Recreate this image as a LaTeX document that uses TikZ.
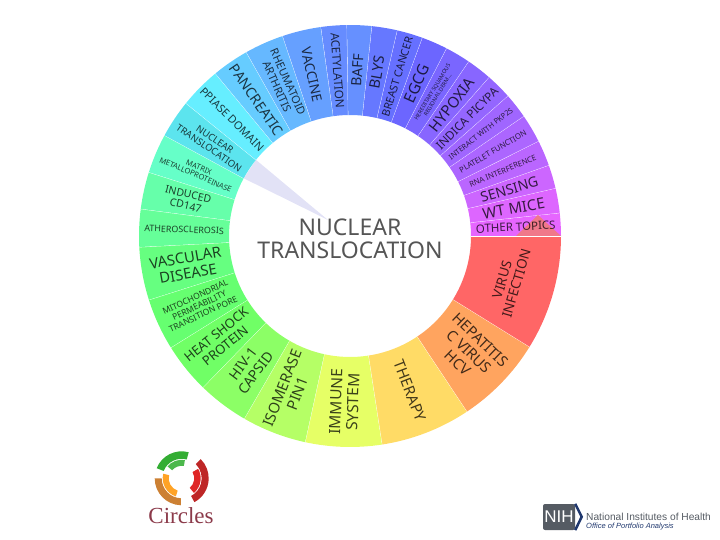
\documentclass[tikz,border=0pt]{standalone}
\usepackage{fontspec}
\setmainfont{Noto Sans}
\newfontfamily\serifname{Liberation Serif}
\newfontfamily\nihname{Liberation Sans}
\definecolor{titlegrey}{HTML}{555555}
\definecolor{nihgrey}{HTML}{555B63}
\definecolor{nihnavy}{HTML}{20386E}
\definecolor{spot}{HTML}{E2E2F6}
\definecolor{circlered}{HTML}{8B3A4A}
\definecolor{salmon}{HTML}{F0788A}
\tikzset{
  wedge/.style={draw=white, line width=0.7pt},
  seclabel/.style={align=center, inner sep=0pt, text=black, text opacity=0.74},
}
% one sector of the ring: from, to, colour, name, font size, rotation, radius, text
\newcommand{\sector}[8]{
  \pgfmathsetmacro{\secmid}{(#1+#2)/2}
  \pgfmathsetmacro{\seclead}{#5*1.1}
  \definecolor{seccol}{HTML}{#3}
  \fill[seccol] (#1:121) arc (#1:#2:121) -- (#2:211) arc (#2:#1:211) -- cycle;
  \draw[wedge] (#1:121) -- (#1:211);
  \node[seclabel, rotate=#6, font=\fontsize{#5}{\seclead}\selectfont] (#4) at (\secmid:#7) {#8};
}
% one band of the logo: from, to, inner radius, outer radius, colour
\newcommand{\logoband}[5]{
  \fill[#5] ([shift={(logo)}]#1:#4) arc (#1:#2:#4) -- ([shift={(logo)}]#2:#3) arc (#2:#1:#3) -- cycle;
}
\begin{document}
\begin{tikzpicture}[x=1pt, y=1pt]
\useasboundingbox (-350,-304) rectangle (370,236);
% pointer from the chosen sector to the title
\fill[spot] (141:121) -- (151.5:121) -- (-22,16) -- cycle;
% ring, clockwise from the east
\sector{-31.8}{0}{FF6666}{virus}{13.5}{74}{166}{VIRUS\\INFECTION}
\sector{-56.4}{-31.8}{FFA45F}{hepatitis}{14.8}{-44}{166}{HEPATITIS\\C VIRUS\\HCV}
\sector{-81.3}{-56.4}{FFDB66}{therapy}{15}{-69}{166}{THERAPY}
\sector{-102.3}{-81.3}{E6FF66}{immune}{15.5}{88}{166}{IMMUNE\\SYSTEM}
\sector{-120.1}{-102.3}{B5FF66}{isomerase}{14.8}{69}{166}{ISOMERASE\\PIN1}
\sector{-134.2}{-120.1}{8CFF66}{capsid}{14}{53}{166}{HIV-1\\CAPSID}
\sector{-148.1}{-134.2}{70FF66}{shock}{13}{39}{166}{HEAT SHOCK\\PROTEIN}
\sector{-162.4}{-148.1}{66FF70}{mitochondrial}{8.5}{25}{166}{MITOCHONDRIAL\\PERMEABILITY\\TRANSITION PORE}
\sector{-177}{-162.4}{66FF80}{vascular}{14.8}{10}{166}{VASCULAR\\DISEASE}
\sector{-187.4}{-177}{66FF99}{athero}{8.9}{-2}{166}{ATHEROSCLEROSIS}
\sector{162.4}{172.6}{66FFAA}{induced}{10.5}{-13}{167}{INDUCED\\CD147}
\sector{151.5}{162.4}{66FFC8}{matrix}{7.5}{-23}{166}{MATRIX\\METALLOPROTEINASE}
\sector{141}{151.5}{5CE4EE}{nuclear}{9.5}{-34}{166}{NUCLEAR\\TRANSLOCATION}
\sector{129.6}{141}{66EEFF}{ppiase}{11}{-45}{166}{PPIASE DOMAIN}
\sector{119.4}{129.6}{66CCFF}{pancreatic}{14.2}{-55.5}{165}{PANCREATIC}
\sector{108.6}{119.4}{66B8FF}{rheumatoid}{11}{-66}{166}{RHEUMATOID\\ARTHRITIS}
\sector{97.9}{108.6}{66A0FF}{vaccine}{13.5}{-77}{166}{VACCINE}
\sector{90.8}{97.9}{668CFF}{acetylation}{11.7}{-86}{166}{ACETYLATION}
\sector{84}{90.8}{6690FF}{baff}{14}{87}{166}{BAFF}
\sector{77}{84}{6678FF}{blys}{14.5}{80}{166}{BLYS}
\sector{69.9}{77}{6670FF}{breast}{10.8}{73}{166}{BREAST CANCER}
\sector{62.7}{69.9}{6C66FF}{egcg}{15.5}{66}{166}{EGCG}
\sector{55.7}{62.7}{7A66FF}{hereditary}{5.5}{59}{166}{HEREDITARY SQUAMOUS\\REGIONAL DERM...}
\sector{48.7}{55.7}{8866FF}{hypoxia}{15}{52}{166}{HYPOXIA}
\sector{41.5}{48.7}{9466FF}{indica}{11.7}{45}{166}{INDICA PICYPA}
\sector{34.5}{41.5}{A066FF}{interact}{7.4}{38}{166}{INTERACT WITH PKP2S}
\sector{26.6}{34.5}{AC66FF}{platelet}{7.8}{30.5}{166}{PLATELET FUNCTION}
\sector{19.5}{26.6}{BA66FF}{rna}{7.7}{23}{166}{RNA INTERFERENCE}
\sector{13}{19.5}{CC66FF}{sensing}{14}{16}{166}{SENSING}
\sector{6.2}{13}{DD66FF}{mice}{15}{10}{166}{WT MICE}
\sector{0}{6.2}{E666FF}{othersector}{11.5}{3}{166}{}
\fill[salmon] (188,21) -- (211,0) -- (166,0) -- cycle;
\node[seclabel, rotate=3, font=\fontsize{11.5}{12}\selectfont] (other) at (3.1:166) {OTHER TOPICS};
% title in the hole
\node[align=center, text=titlegrey, font=\fontsize{23}{23}\selectfont] (title) at (0,-3) {NUCLEAR\\TRANSLOCATION};
% circles logo
\coordinate (logo) at (-168.3,-242.3);
\logoband{75}{158}{19.5}{27}{green!60!black!80!white}
\logoband{80}{140}{12.5}{18.5}{green!60!black!70!white}
\logoband{-62}{45}{20}{27}{red!70!black!85!white}
\logoband{-50}{30}{12.5}{19}{red!85!black!85!white}
\logoband{-92}{-180}{20}{27}{orange!75!black!80!white}
\logoband{-108}{-194}{13}{19}{orange!85!yellow!85!white}
\node[font=\fontsize{23}{23}\selectfont\serifname, text=circlered, inner sep=0pt] (circles) at (-169,-280) {Circles};
% nih logo
\node[fill=nihgrey, rounded corners=2pt, text=white, minimum width=32pt, minimum height=26pt, inner sep=0pt, font=\fontsize{17}{17}\selectfont\nihname] (nih) at (209,-281) {NIH};
\draw[nihnavy, line width=2.5pt] (nih.north east) -- ++(6.5,-13) -- (nih.south east);
\node[anchor=west, inner sep=0pt, text=nihgrey, font=\fontsize{10.2}{11}\selectfont\nihname] (nihtext) at (236,-281) {National Institutes of Health};
\node[anchor=west, inner sep=0pt, text=nihnavy, font=\fontsize{7.5}{8}\selectfont\itshape\nihname] (office) at (236,-291) {Office of Portfolio Analysis};
\end{tikzpicture}
\end{document}
